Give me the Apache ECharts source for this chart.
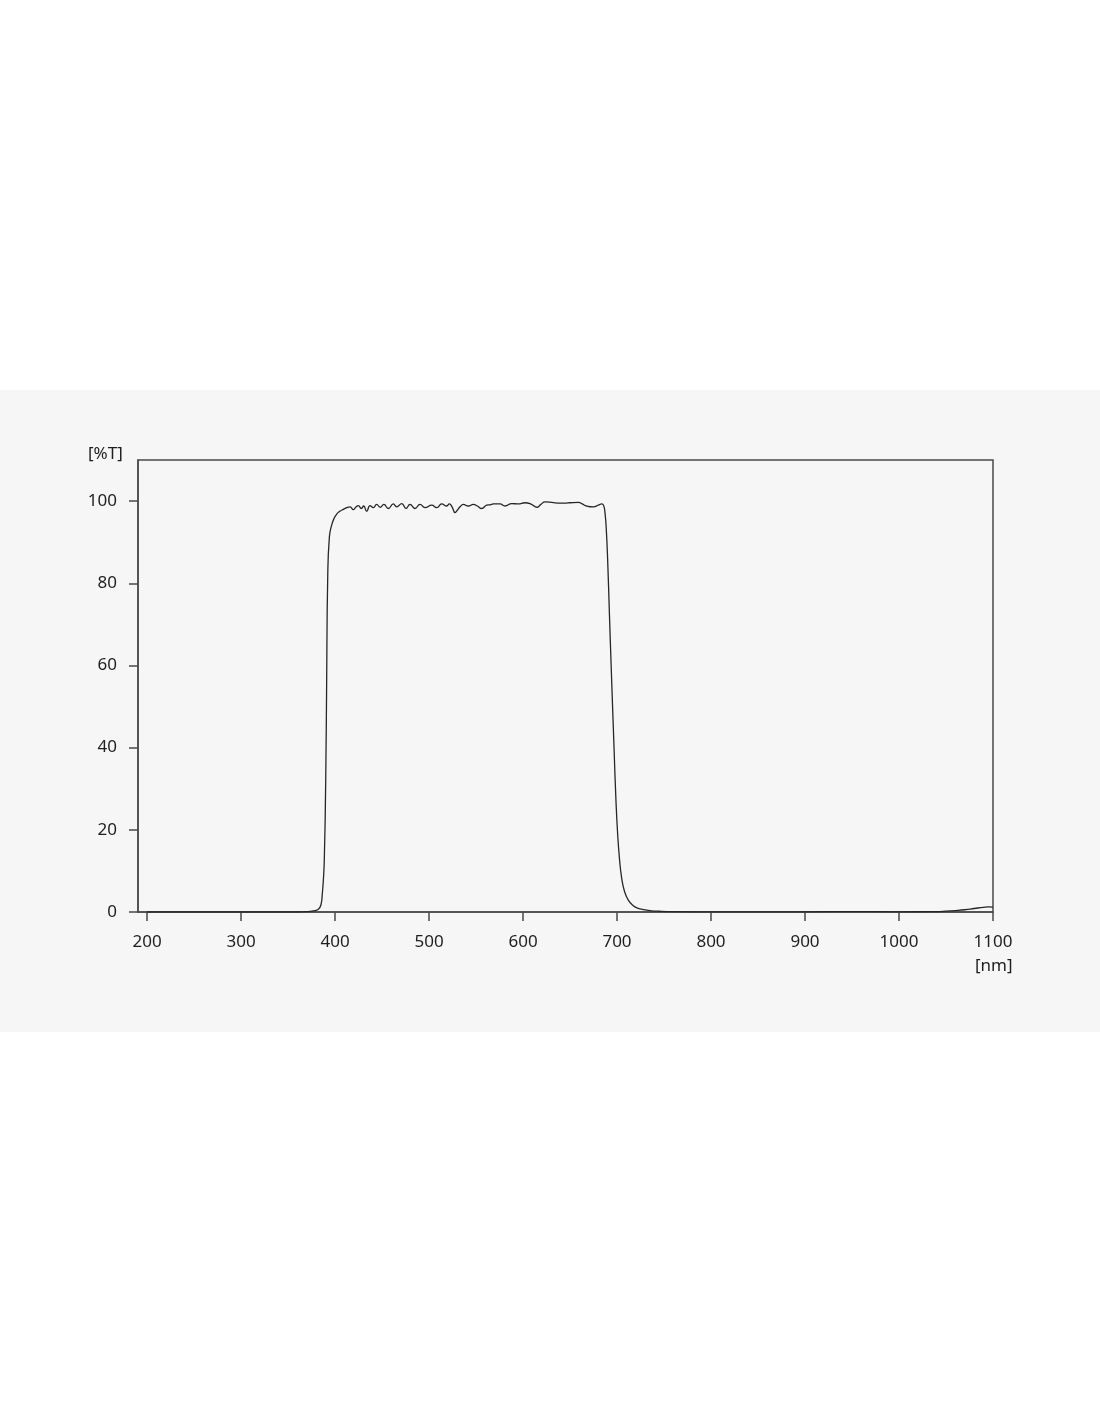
<!DOCTYPE html>
<html>
<head>
<meta charset="utf-8">
<style>
html,body{margin:0;padding:0;background:#ffffff;}
#chart{width:1100px;height:1422px;}
</style>
<script src="https://cdn.jsdelivr.net/npm/echarts@6/dist/echarts.min.js"></script>
</head>
<body>
<div id="chart"></div>
<script>
// Wavelength [nm]
var wavelengths = [200, 300, 360, 370, 377, 382, 385, 386.5, 387.6, 388.6, 390.1, 391.1, 392.2, 394, 396.5, 399, 402, 405, 409, 412.5, 416, 419.5, 422, 424.8, 428, 430.5, 433.7, 437.2, 440.8, 444.3, 448, 452, 456.7, 462, 465.6, 471, 475.5, 479.8, 485, 490.4, 495.7, 502.9, 508.2, 513.5, 518.8, 521.6, 524.5, 527.7, 530.5, 533, 536.5, 541.8, 547.2, 551.5, 556, 561.4, 565, 568.4, 575.5, 580.9, 588, 595, 602, 607.4, 611, 615.2, 619, 623.4, 630.5, 639.4, 645, 650, 658.9, 663, 667.8, 674.8, 680.1, 683.7, 685.8, 687.2, 688.5, 690, 692, 694.3, 696.8, 698.9, 700.8, 702.8, 705, 708, 712, 717, 722, 728, 735, 745, 760, 800, 900, 950, 1000, 1040, 1050, 1060, 1070, 1080, 1090, 1095, 1100];
// Transmission [%T]
var transmission = [0, 0, 0, 0.1, 0.3, 0.6, 1.7, 4.5, 7.8, 12.7, 32, 56, 81, 91.3, 94.2, 95.8, 96.9, 97.5, 98.0, 98.4, 98.6, 97.9, 98.5, 98.9, 98.2, 98.8, 97.5, 98.9, 98.4, 99.2, 98.5, 99.2, 98.2, 99.3, 98.6, 99.4, 98.2, 99.2, 98.2, 99.2, 98.4, 99.0, 98.4, 99.3, 98.8, 99.3, 98.6, 97.2, 97.9, 98.6, 99.2, 98.8, 99.2, 98.8, 98.2, 99.0, 99.1, 99.3, 99.3, 98.8, 99.4, 99.3, 99.6, 99.4, 98.9, 98.5, 99.2, 99.8, 99.7, 99.5, 99.5, 99.6, 99.7, 99.3, 98.8, 98.6, 99.0, 99.3, 98.9, 97.2, 93.5, 86, 72, 56.4, 40.2, 27, 18.5, 12.5, 8.2, 5.0, 2.9, 1.6, 0.95, 0.6, 0.35, 0.18, 0.08, 0.05, 0.05, 0.1, 0.05, 0.1, 0.2, 0.35, 0.55, 0.85, 1.15, 1.25, 1.2];
var xTicks = [200, 300, 400, 500, 600, 700, 800, 900, 1000, 1100];
var yTicks = [0, 20, 40, 60, 80, 100];

var seriesData = wavelengths.map(function (w, i) { return [w, transmission[i]]; });

var chart = echarts.init(document.getElementById('chart'), null, {renderer: 'canvas'});
var axisColor = '#4a4a4a';
var labelFont = {color: '#1e1e1e', fontSize: 17, fontFamily: 'Noto Sans'};
chart.setOption({
  animation: false,
  backgroundColor: '#ffffff',
  graphic: [
    {type: 'rect', z: -10, silent: true, shape: {x: 0, y: 390, width: 1100, height: 642}, style: {fill: '#f6f6f6'}},
    {type: 'text', z: 10, left: 88, top: 446, style: {text: '[%T]', fill: '#1e1e1e', fontSize: 17, fontFamily: 'Noto Sans'}},
    {type: 'text', z: 10, left: 975, top: 958, style: {text: '[nm]', fill: '#1e1e1e', fontSize: 17, fontFamily: 'Noto Sans'}}
  ],
  grid: {
    left: 138, right: 107, top: 460, bottom: 510,
    show: true, borderColor: axisColor, borderWidth: 1.5, backgroundColor: 'transparent'
  },
  xAxis: {
    type: 'value', min: 190.4, max: 1100,
    axisLine: {show: true, onZero: false, lineStyle: {color: axisColor, width: 1.5}},
    axisTick: {show: true, inside: false, length: 9, customValues: xTicks, lineStyle: {color: axisColor, width: 1.5}},
    axisLabel: Object.assign({margin: 22, customValues: xTicks, formatter: function (v) { return String(v); }}, labelFont),
    splitLine: {show: false}
  },
  yAxis: {
    type: 'value', min: 0, max: 110,
    axisLine: {show: true, lineStyle: {color: axisColor, width: 1.5}},
    axisTick: {show: true, inside: false, length: 9, customValues: yTicks, lineStyle: {color: axisColor, width: 1.5}},
    axisLabel: Object.assign({margin: 21, customValues: yTicks, formatter: function (v) { return String(v); }}, labelFont),
    splitLine: {show: false}
  },
  series: [{
    type: 'line',
    data: seriesData,
    showSymbol: false,
    smooth: 0.5,
    lineStyle: {color: '#262626', width: 1.3},
    clip: true
  }]
});
</script>
</body>
</html>
